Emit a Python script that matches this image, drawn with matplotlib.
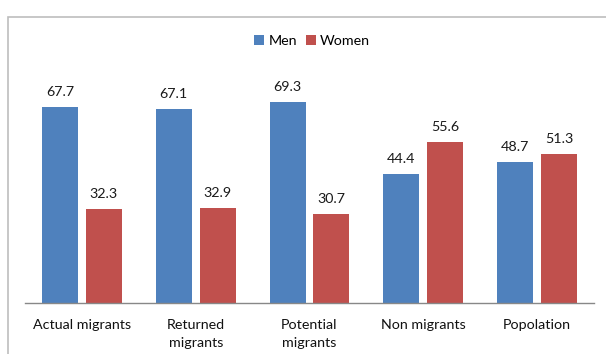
import matplotlib
matplotlib.use("Agg")
import matplotlib.pyplot as plt
from matplotlib.patches import Rectangle
import numpy as np

categories = ["Actual migrants", "Returned\nmigrants", "Potential\nmigrants", "Non migrants", "Popolation"]
men = [67.7, 67.1, 69.3, 44.4, 48.7]
women = [32.3, 32.9, 30.7, 55.6, 51.3]

BLUE = "#4F81BD"
RED = "#C0504D"

plt.rcParams["font.family"] = ["Lato", "DejaVu Sans"]

fig = plt.figure(figsize=(6.06, 3.54), dpi=100)
fig.patches.append(Rectangle((8 / 606, -0.1), 1.2, 1 - 17 / 354 + 0.1,
                             transform=fig.transFigure, fill=False,
                             edgecolor="#BDBDBD", linewidth=1.2))

ax = fig.add_axes([25 / 606, 1 - 303 / 354, 569 / 606, (303 - 71.4) / 354])
x = np.arange(len(categories))
w = 0.316
off = 0.193
b1 = ax.bar(x - off, men, w, color=BLUE, label="Men")
b2 = ax.bar(x + off, women, w, color=RED, label="Women")

for bars, vals in ((b1, men), (b2, women)):
    for r, v in zip(bars, vals):
        ax.annotate(f"{v:.1f}", (r.get_x() + r.get_width() / 2, v),
                    xytext=(0, 6.5), textcoords="offset points",
                    ha="center", va="bottom", fontsize=10.3, color="#1a1a1a")

ax.set_xlim(-0.5, len(categories) - 0.5)
ax.set_ylim(0, 80)
ax.set_yticks([])
ax.set_xticks(x)
ax.set_xticklabels(categories, fontsize=10.3, color="#111111", linespacing=1.65)
ax.tick_params(axis="x", length=0, pad=11.5)
for s in ("top", "right", "left"):
    ax.spines[s].set_visible(False)
ax.spines["bottom"].set_color("#888888")
ax.spines["bottom"].set_linewidth(1.0)

fig.legend(handles=[b1, b2], labels=["Men", "Women"], loc="center",
           bbox_to_anchor=(0.515, 0.885), ncol=2, frameon=False,
           fontsize=10.3, handlelength=0.7, handleheight=0.7,
           handletextpad=0.3, columnspacing=0.6)

fig.savefig("out.png", dpi=100)
